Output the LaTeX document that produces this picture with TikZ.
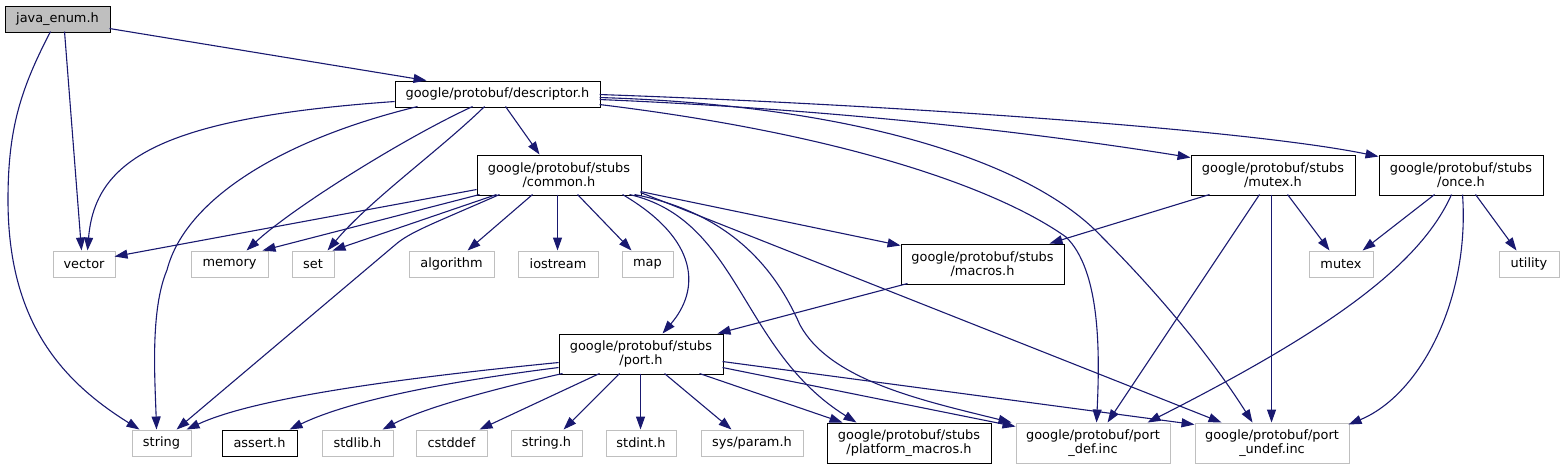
\documentclass[tikz,border=0pt]{standalone}
\usepackage{fontspec}
\setmainfont{DejaVu Sans}
\usetikzlibrary{arrows.meta,calc}
\definecolor{edgec}{HTML}{191970}
\definecolor{extgray}{HTML}{BFBFBF}
\begin{document}
\begin{tikzpicture}[x=1pt,y=-1pt,
  box/.style={draw=black, line width=0.95pt, inner sep=0pt, align=center,
    font=\fontsize{12.9}{14.5}\selectfont, minimum height=26pt},
  ext/.style={box, draw=extgray},
  two/.style={minimum height=40pt},
  edge/.style={draw=edgec, line width=1.1pt, -{Triangle[length=13pt,width=9pt]}}]
\useasboundingbox (0,0) rectangle (1565,469);
% nodes
\node[box, fill=extgray, minimum width=105pt] (java) at (57.5,19) {java\_enum.h};
\node[box, minimum width=205pt] (descr) at (497.5,94) {google/protobuf/descriptor.h};
\node[box, two, minimum width=164pt] (common) at (559,175) {google/protobuf/stubs\\/common.h};
\node[box, two, minimum width=164pt] (mutexh) at (1273,175) {google/protobuf/stubs\\/mutex.h};
\node[box, two, minimum width=164pt] (onceh) at (1461,175) {google/protobuf/stubs\\/once.h};
\node[ext, minimum width=62pt] (vector) at (84,264) {vector};
\node[ext, minimum width=77pt] (memory) at (229.5,264) {memory};
\node[ext, minimum width=42pt] (set) at (313,264) {set};
\node[ext, minimum width=85pt] (algorithm) at (451.5,264) {algorithm};
\node[ext, minimum width=80pt] (iostream) at (558,264) {iostream};
\node[ext, minimum width=51pt] (map) at (647.5,264) {map};
\node[box, two, minimum width=163pt] (macros) at (982.5,264) {google/protobuf/stubs\\/macros.h};
\node[ext, minimum width=64pt] (mutex) at (1341,264) {mutex};
\node[ext, minimum width=60pt] (utility) at (1529,264) {utility};
\node[box, two, minimum width=164pt] (port) at (641,354) {google/protobuf/stubs\\/port.h};
\node[ext, minimum width=59pt] (string) at (161.5,443) {string};
\node[box, minimum width=75pt] (assert) at (259.5,443) {assert.h};
\node[ext, minimum width=71pt] (stdlib) at (357.5,443) {stdlib.h};
\node[ext, minimum width=71pt] (cstddef) at (451.5,443) {cstddef};
\node[ext, minimum width=71pt] (stringh) at (546.5,443) {string.h};
\node[ext, minimum width=70pt] (stdint) at (641,443) {stdint.h};
\node[ext, minimum width=102pt] (sysparam) at (752,443) {sys/param.h};
\node[box, two, minimum width=164pt] (platform) at (909,443) {google/protobuf/stubs\\/platform\_macros.h};
\node[ext, two, minimum width=154pt] (portdef) at (1093,443) {google/protobuf/port\\\_def.inc};
\node[ext, two, minimum width=154pt] (portundef) at (1272,443) {google/protobuf/port\\\_undef.inc};
% java edges
\draw[edge] ($(java.north west)+(105,23)$) -- ($(descr.north west)+(32,0)$);
\draw[edge] ($(java.north west)+(60,26)$) -- ($(vector.north west)+(29,0)$);
\draw[edge] ($(java.north west)+(46,26)$) .. controls (20,90) and (8,130) .. (8,200)
  .. controls (8,320) and (60,380) .. ($(string.north west)+(8,0)$);
% descriptor edges
\draw[edge] ($(descr.north west)+(0,21)$) .. controls (160,118) and (95,160) .. ($(vector.north west)+(35,0)$);
\draw[edge] ($(descr.north west)+(78,26)$) .. controls (400,140) and (290,210) .. ($(memory.north west)+(56,0)$);
\draw[edge] ($(descr.north west)+(90,26)$) .. controls (440,150) and (370,200) .. ($(set.north west)+(36,0)$);
\draw[edge] ($(descr.north west)+(23,26)$) .. controls (280,140) and (185,200) .. (167,270)
  .. controls (150,310) and (155,380) .. ($(string.north west)+(25,0)$);
\draw[edge] ($(descr.north west)+(111,26)$) -- ($(common.north west)+(63,0)$);
\draw[edge] ($(descr.north west)+(205,19)$) .. controls (850,110) and (1050,135) .. ($(mutexh.north west)+(0,3)$);
\draw[edge] ($(descr.north west)+(205,14)$) .. controls (900,105) and (1250,130) .. ($(onceh.north west)+(0,2)$);
\draw[edge] ($(descr.north west)+(205,24)$) .. controls (850,135) and (1000,190) .. (1066,237)
  .. controls (1100,270) and (1100,350) .. ($(portdef.north west)+(81,0)$);
\draw[edge] ($(descr.north west)+(205,17)$) .. controls (850,105) and (1030,160) .. (1102,237)
  .. controls (1140,275) and (1200,340) .. ($(portundef.north west)+(58,0)$);
% common edges
\draw[edge] ($(common.north west)+(0,35)$) -- ($(vector.north west)+(62,6)$);
\draw[edge] ($(common.north west)+(3,40)$) -- ($(memory.north west)+(72,0)$);
\draw[edge] ($(common.north west)+(20,40)$) -- ($(set.north west)+(41,0)$);
\draw[edge] ($(common.north west)+(23,40)$) .. controls (430,225) and (410,232) .. (395,245)
  -- ($(string.north west)+(45,0)$);
\draw[edge] ($(common.north west)+(56,40)$) -- ($(algorithm.north west)+(59,0)$);
\draw[edge] ($(common.north west)+(81,40)$) -- ($(iostream.north west)+(40,0)$);
\draw[edge] ($(common.north west)+(101,40)$) -- ($(map.north west)+(10,0)$);
\draw[edge] ($(common.north west)+(164,37)$) -- ($(macros.north west)+(0,2)$);
\draw[edge] ($(common.north west)+(146,40)$) .. controls (700,240) and (700,290) .. ($(port.north west)+(104,0)$);
\draw[edge] ($(common.north west)+(153,40)$) .. controls (740,220) and (740,350) .. ($(platform.north west)+(30,0)$);
\draw[edge] ($(common.north west)+(158,40)$) .. controls (740,215) and (780,280) .. (800,325)
  .. controls (830,380) and (920,400) .. ($(portdef.north west)+(-4,0)$);
\draw[edge] ($(common.north west)+(164,38)$) -- ($(portundef.north west)+(27,0)$);
% mutex.h edges
\draw[edge] ($(mutexh.north west)+(19,40)$) -- ($(macros.north west)+(149,0)$);
\draw[edge] ($(mutexh.north west)+(69,40)$) -- ($(portdef.north west)+(92,0)$);
\draw[edge] ($(mutexh.north west)+(81,40)$) -- ($(portundef.north west)+(77,0)$);
\draw[edge] ($(mutexh.north west)+(97,40)$) -- ($(mutex.north west)+(21,0)$);
% once.h edges
\draw[edge] ($(onceh.north west)+(56,40)$) -- ($(mutex.north west)+(54,0)$);
\draw[edge] ($(onceh.north west)+(73,40)$) .. controls (1420,265) and (1330,330) .. ($(portdef.north west)+(132,0)$);
\draw[edge] ($(onceh.north west)+(84,40)$) .. controls (1470,300) and (1420,395) .. ($(portundef.north west)+(154,2)$);
\draw[edge] ($(onceh.north west)+(97,40)$) -- ($(utility.north west)+(18,0)$);
% macros edge
\draw[edge] ($(macros.north west)+(7,40)$) -- ($(port.north west)+(159,0)$);
% port edges
\draw[edge] ($(port.north west)+(0,29)$) .. controls (380,380) and (250,400) .. ($(string.north west)+(55,0)$);
\draw[edge] ($(port.north west)+(0,34)$) .. controls (420,385) and (340,405) .. ($(assert.north west)+(68,0)$);
\draw[edge] ($(port.north west)+(4,40)$) .. controls (480,392) and (420,410) .. ($(stdlib.north west)+(61,0)$);
\draw[edge] ($(port.north west)+(41,40)$) -- ($(cstddef.north west)+(64,0)$);
\draw[edge] ($(port.north west)+(61,40)$) -- ($(stringh.north west)+(53,0)$);
\draw[edge] ($(port.north west)+(82,40)$) -- ($(stdint.north west)+(35,0)$);
\draw[edge] ($(port.north west)+(106,40)$) -- ($(sysparam.north west)+(31,0)$);
\draw[edge] ($(port.north west)+(141,40)$) -- ($(platform.north west)+(16,0)$);
\draw[edge] ($(port.north west)+(164,34)$) -- ($(portdef.north west)+(0,4)$);
\draw[edge] ($(port.north west)+(164,28)$) -- ($(portundef.north west)+(0,2)$);
\end{tikzpicture}
\end{document}
